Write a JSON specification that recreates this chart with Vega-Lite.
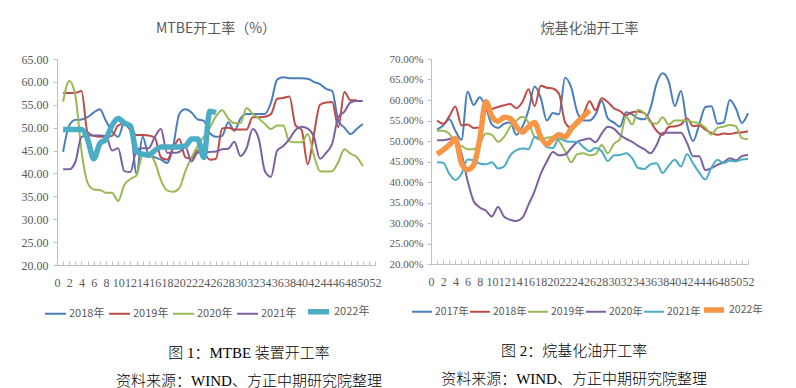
{
  "$schema": "https://vega.github.io/schema/vega-lite/v6.json",
  "background": "white",
  "padding": {"left": 21, "top": 22, "right": 5, "bottom": 0},
  "spacing": 7,
  "datasets": {
    "mtbe": [
      {"s":"2018年","w":1,"v":44.7},{"s":"2018年","w":2,"v":50.5},{"s":"2018年","w":3,"v":51.7},{"s":"2018年","w":4,"v":51.8},{"s":"2018年","w":5,"v":52.3},{"s":"2018年","w":6,"v":53.3},{"s":"2018年","w":7,"v":54.0},{"s":"2018年","w":8,"v":51.5},{"s":"2018年","w":9,"v":49.2},{"s":"2018年","w":10,"v":48.0},
      {"s":"2018年","w":11,"v":51.0},{"s":"2018年","w":12,"v":50.0},{"s":"2018年","w":13,"v":40.0},{"s":"2018年","w":14,"v":48.0},{"s":"2018年","w":15,"v":44.0},{"s":"2018年","w":16,"v":43.5},{"s":"2018年","w":17,"v":43.0},{"s":"2018年","w":18,"v":42.3},{"s":"2018年","w":19,"v":46.0},{"s":"2018年","w":20,"v":53.0},
      {"s":"2018年","w":21,"v":54.0},{"s":"2018年","w":22,"v":53.3},{"s":"2018年","w":23,"v":51.8},{"s":"2018年","w":24,"v":51.5},{"s":"2018年","w":25,"v":48.8},{"s":"2018年","w":26,"v":48.0},{"s":"2018年","w":27,"v":48.2},{"s":"2018年","w":28,"v":51.2},{"s":"2018年","w":29,"v":49.3},{"s":"2018年","w":30,"v":52.0},
      {"s":"2018年","w":31,"v":53.0},{"s":"2018年","w":32,"v":53.0},{"s":"2018年","w":33,"v":53.0},{"s":"2018年","w":34,"v":53.0},{"s":"2018年","w":35,"v":55.5},{"s":"2018年","w":36,"v":60.5},{"s":"2018年","w":37,"v":61.0},{"s":"2018年","w":38,"v":60.8},{"s":"2018年","w":39,"v":60.8},{"s":"2018年","w":40,"v":60.8},
      {"s":"2018年","w":41,"v":60.7},{"s":"2018年","w":42,"v":60.0},{"s":"2018年","w":43,"v":59.5},{"s":"2018年","w":44,"v":58.5},{"s":"2018年","w":45,"v":58.0},{"s":"2018年","w":46,"v":51.5},{"s":"2018年","w":47,"v":50.0},{"s":"2018年","w":48,"v":48.6},{"s":"2018年","w":49,"v":49.7},{"s":"2018年","w":50,"v":50.8},
      {"s":"2019年","w":1,"v":57.6},{"s":"2019年","w":2,"v":57.6},{"s":"2019年","w":3,"v":57.6},{"s":"2019年","w":4,"v":58.0},{"s":"2019年","w":5,"v":49.0},{"s":"2019年","w":6,"v":48.2},{"s":"2019年","w":7,"v":48.0},{"s":"2019年","w":8,"v":48.0},{"s":"2019年","w":9,"v":48.2},{"s":"2019年","w":10,"v":50.5},
      {"s":"2019年","w":11,"v":50.8},{"s":"2019年","w":12,"v":49.5},{"s":"2019年","w":13,"v":48.4},{"s":"2019年","w":14,"v":48.4},{"s":"2019年","w":15,"v":48.3},{"s":"2019年","w":16,"v":47.8},{"s":"2019年","w":17,"v":43.5},{"s":"2019年","w":18,"v":43.0},{"s":"2019年","w":19,"v":45.5},{"s":"2019年","w":20,"v":47.5},
      {"s":"2019年","w":21,"v":43.5},{"s":"2019年","w":22,"v":43.2},{"s":"2019年","w":23,"v":45.0},{"s":"2019年","w":24,"v":44.5},{"s":"2019年","w":25,"v":43.0},{"s":"2019年","w":26,"v":43.2},{"s":"2019年","w":27,"v":49.8},{"s":"2019年","w":28,"v":50.0},{"s":"2019年","w":29,"v":49.6},{"s":"2019年","w":30,"v":49.6},
      {"s":"2019年","w":31,"v":49.6},{"s":"2019年","w":32,"v":52.3},{"s":"2019年","w":33,"v":52.3},{"s":"2019年","w":34,"v":52.4},{"s":"2019年","w":35,"v":53.0},{"s":"2019年","w":36,"v":56.3},{"s":"2019年","w":37,"v":56.5},{"s":"2019年","w":38,"v":56.8},{"s":"2019年","w":39,"v":50.5},{"s":"2019年","w":40,"v":49.5},
      {"s":"2019年","w":41,"v":42.0},{"s":"2019年","w":42,"v":48.5},{"s":"2019年","w":43,"v":55.0},{"s":"2019年","w":44,"v":55.5},{"s":"2019年","w":45,"v":55.6},{"s":"2019年","w":46,"v":50.1},{"s":"2019年","w":47,"v":57.8},{"s":"2019年","w":48,"v":56.0},{"s":"2019年","w":49,"v":56.0},
      {"s":"2020年","w":1,"v":55.7},{"s":"2020年","w":2,"v":60.2},{"s":"2020年","w":3,"v":57.0},{"s":"2020年","w":4,"v":45.0},{"s":"2020年","w":5,"v":38.0},{"s":"2020年","w":6,"v":36.5},{"s":"2020年","w":7,"v":36.4},{"s":"2020年","w":8,"v":35.8},{"s":"2020年","w":9,"v":35.8},{"s":"2020年","w":10,"v":34.0},
      {"s":"2020年","w":11,"v":37.5},{"s":"2020年","w":12,"v":38.8},{"s":"2020年","w":13,"v":39.6},{"s":"2020年","w":14,"v":44.0},{"s":"2020年","w":15,"v":44.3},{"s":"2020年","w":16,"v":42.5},{"s":"2020年","w":17,"v":38.5},{"s":"2020年","w":18,"v":36.3},{"s":"2020年","w":19,"v":36.0},{"s":"2020年","w":20,"v":36.8},
      {"s":"2020年","w":21,"v":40.5},{"s":"2020年","w":22,"v":43.5},{"s":"2020年","w":23,"v":46.0},{"s":"2020年","w":24,"v":48.0},{"s":"2020年","w":25,"v":50.0},{"s":"2020年","w":26,"v":52.5},{"s":"2020年","w":27,"v":53.8},{"s":"2020年","w":28,"v":52.0},{"s":"2020年","w":29,"v":51.0},{"s":"2020年","w":30,"v":51.0},
      {"s":"2020年","w":31,"v":54.3},{"s":"2020年","w":32,"v":53.0},{"s":"2020年","w":33,"v":52.0},{"s":"2020年","w":34,"v":50.8},{"s":"2020年","w":35,"v":49.7},{"s":"2020年","w":36,"v":50.5},{"s":"2020年","w":37,"v":50.5},{"s":"2020年","w":38,"v":47.0},{"s":"2020年","w":39,"v":46.8},{"s":"2020年","w":40,"v":46.8},
      {"s":"2020年","w":41,"v":48.6},{"s":"2020年","w":42,"v":44.0},{"s":"2020年","w":43,"v":40.5},{"s":"2020年","w":44,"v":40.4},{"s":"2020年","w":45,"v":40.5},{"s":"2020年","w":46,"v":42.5},{"s":"2020年","w":47,"v":45.3},{"s":"2020年","w":48,"v":44.3},{"s":"2020年","w":49,"v":43.6},{"s":"2020年","w":50,"v":41.6},
      {"s":"2021年","w":1,"v":40.9},{"s":"2021年","w":2,"v":40.9},{"s":"2021年","w":3,"v":42.5},{"s":"2021年","w":4,"v":48.0},{"s":"2021年","w":5,"v":48.3},{"s":"2021年","w":6,"v":48.3},{"s":"2021年","w":7,"v":48.3},{"s":"2021年","w":8,"v":48.2},{"s":"2021年","w":9,"v":45.0},{"s":"2021年","w":10,"v":45.5},
      {"s":"2021年","w":11,"v":40.5},{"s":"2021年","w":12,"v":40.3},{"s":"2021年","w":13,"v":45.0},{"s":"2021年","w":14,"v":45.5},{"s":"2021年","w":15,"v":45.5},{"s":"2021年","w":16,"v":48.0},{"s":"2021年","w":17,"v":49.7},{"s":"2021年","w":18,"v":44.5},{"s":"2021年","w":19,"v":44.5},{"s":"2021年","w":20,"v":44.7},
      {"s":"2021年","w":21,"v":45.8},{"s":"2021年","w":22,"v":42.6},{"s":"2021年","w":23,"v":44.5},{"s":"2021年","w":24,"v":44.6},{"s":"2021年","w":25,"v":44.7},{"s":"2021年","w":26,"v":44.8},{"s":"2021年","w":27,"v":45.3},{"s":"2021年","w":28,"v":45.4},{"s":"2021年","w":29,"v":46.9},{"s":"2021年","w":30,"v":43.8},
      {"s":"2021年","w":31,"v":45.5},{"s":"2021年","w":32,"v":49.7},{"s":"2021年","w":33,"v":47.5},{"s":"2021年","w":34,"v":40.5},{"s":"2021年","w":35,"v":39.3},{"s":"2021年","w":36,"v":45.0},{"s":"2021年","w":37,"v":46.0},{"s":"2021年","w":38,"v":47.5},{"s":"2021年","w":39,"v":49.5},{"s":"2021年","w":40,"v":50.2},
      {"s":"2021年","w":41,"v":49.8},{"s":"2021年","w":42,"v":48.0},{"s":"2021年","w":43,"v":43.2},{"s":"2021年","w":44,"v":44.5},{"s":"2021年","w":45,"v":46.5},{"s":"2021年","w":46,"v":52.3},{"s":"2021年","w":47,"v":53.5},{"s":"2021年","w":48,"v":55.5},{"s":"2021年","w":49,"v":55.8},{"s":"2021年","w":50,"v":55.8},
      {"s":"2022年","w":1,"v":49.6},{"s":"2022年","w":2,"v":49.6},{"s":"2022年","w":3,"v":49.6},{"s":"2022年","w":4,"v":49.6},{"s":"2022年","w":5,"v":47.5},{"s":"2022年","w":6,"v":43.2},{"s":"2022年","w":7,"v":46.5},{"s":"2022年","w":8,"v":47.5},{"s":"2022年","w":9,"v":50.5},{"s":"2022年","w":10,"v":52.0},
      {"s":"2022年","w":11,"v":51.0},{"s":"2022年","w":12,"v":50.4},{"s":"2022年","w":13,"v":44.8},{"s":"2022年","w":14,"v":44.2},{"s":"2022年","w":15,"v":44.0},{"s":"2022年","w":16,"v":45.0},{"s":"2022年","w":17,"v":45.8},{"s":"2022年","w":18,"v":45.8},{"s":"2022年","w":19,"v":45.8},{"s":"2022年","w":20,"v":45.8},
      {"s":"2022年","w":21,"v":46.0},{"s":"2022年","w":22,"v":47.5},{"s":"2022年","w":23,"v":47.5},{"s":"2022年","w":24,"v":43.5},{"s":"2022年","w":25,"v":53.6},{"s":"2022年","w":26,"v":53.3}
    ],
    "alky": [
      {"s":"2017年","w":1,"v":52.8},{"s":"2017年","w":2,"v":53.8},{"s":"2017年","w":3,"v":55.3},{"s":"2017年","w":4,"v":52.5},{"s":"2017年","w":5,"v":50.3},{"s":"2017年","w":6,"v":62.0},{"s":"2017年","w":7,"v":58.8},{"s":"2017年","w":8,"v":60.7},{"s":"2017年","w":9,"v":58.2},{"s":"2017年","w":10,"v":54.0},
      {"s":"2017年","w":11,"v":53.2},{"s":"2017年","w":12,"v":54.2},{"s":"2017年","w":13,"v":54.5},{"s":"2017年","w":14,"v":51.5},{"s":"2017年","w":15,"v":53.5},{"s":"2017年","w":16,"v":57.5},{"s":"2017年","w":17,"v":63.3},{"s":"2017年","w":18,"v":60.5},{"s":"2017年","w":19,"v":55.0},{"s":"2017年","w":20,"v":56.8},
      {"s":"2017年","w":21,"v":56.5},{"s":"2017年","w":22,"v":65.4},{"s":"2017年","w":23,"v":63.0},{"s":"2017年","w":24,"v":57.0},{"s":"2017年","w":25,"v":55.0},{"s":"2017年","w":26,"v":55.0},{"s":"2017年","w":27,"v":56.5},{"s":"2017年","w":28,"v":59.8},{"s":"2017年","w":29,"v":55.5},{"s":"2017年","w":30,"v":54.5},
      {"s":"2017年","w":31,"v":53.5},{"s":"2017年","w":32,"v":57.0},{"s":"2017年","w":33,"v":56.5},{"s":"2017年","w":34,"v":55.5},{"s":"2017年","w":35,"v":55.3},{"s":"2017年","w":36,"v":58.0},{"s":"2017年","w":37,"v":64.0},{"s":"2017年","w":38,"v":66.5},{"s":"2017年","w":39,"v":64.5},{"s":"2017年","w":40,"v":58.5},
      {"s":"2017年","w":41,"v":62.2},{"s":"2017年","w":42,"v":54.0},{"s":"2017年","w":43,"v":50.0},{"s":"2017年","w":44,"v":54.0},{"s":"2017年","w":45,"v":58.3},{"s":"2017年","w":46,"v":58.5},{"s":"2017年","w":47,"v":54.2},{"s":"2017年","w":48,"v":54.5},{"s":"2017年","w":49,"v":60.0},{"s":"2017年","w":50,"v":58.0},
      {"s":"2017年","w":51,"v":54.4},{"s":"2017年","w":52,"v":56.8},
      {"s":"2018年","w":1,"v":55.0},{"s":"2018年","w":2,"v":54.2},{"s":"2018年","w":3,"v":56.0},{"s":"2018年","w":4,"v":58.4},{"s":"2018年","w":5,"v":53.8},{"s":"2018年","w":6,"v":54.0},{"s":"2018年","w":7,"v":53.2},{"s":"2018年","w":8,"v":53.3},{"s":"2018年","w":9,"v":57.3},{"s":"2018年","w":10,"v":57.8},
      {"s":"2018年","w":11,"v":58.3},{"s":"2018年","w":12,"v":58.7},{"s":"2018年","w":13,"v":59.0},{"s":"2018年","w":14,"v":58.0},{"s":"2018年","w":15,"v":59.5},{"s":"2018年","w":16,"v":62.6},{"s":"2018年","w":17,"v":58.5},{"s":"2018年","w":18,"v":63.5},{"s":"2018年","w":19,"v":63.0},{"s":"2018年","w":20,"v":62.8},
      {"s":"2018年","w":21,"v":61.5},{"s":"2018年","w":22,"v":54.5},{"s":"2018年","w":23,"v":53.2},{"s":"2018年","w":24,"v":55.0},{"s":"2018年","w":25,"v":56.5},{"s":"2018年","w":26,"v":59.7},{"s":"2018年","w":27,"v":57.5},{"s":"2018年","w":28,"v":60.4},{"s":"2018年","w":29,"v":59.5},{"s":"2018年","w":30,"v":58.0},
      {"s":"2018年","w":31,"v":57.3},{"s":"2018年","w":32,"v":56.3},{"s":"2018年","w":33,"v":57.0},{"s":"2018年","w":34,"v":57.2},{"s":"2018年","w":35,"v":56.8},{"s":"2018年","w":36,"v":54.8},{"s":"2018年","w":37,"v":52.5},{"s":"2018年","w":38,"v":51.5},{"s":"2018年","w":39,"v":53.4},{"s":"2018年","w":40,"v":53.6},
      {"s":"2018年","w":41,"v":54.0},{"s":"2018年","w":42,"v":55.5},{"s":"2018年","w":43,"v":53.6},{"s":"2018年","w":44,"v":53.8},{"s":"2018年","w":45,"v":52.8},{"s":"2018年","w":46,"v":52.0},{"s":"2018年","w":47,"v":51.5},{"s":"2018年","w":48,"v":51.8},{"s":"2018年","w":49,"v":51.7},{"s":"2018年","w":50,"v":52.0},
      {"s":"2018年","w":51,"v":52.1},{"s":"2018年","w":52,"v":52.4},
      {"s":"2019年","w":1,"v":52.5},{"s":"2019年","w":2,"v":52.5},{"s":"2019年","w":3,"v":51.8},{"s":"2019年","w":4,"v":49.5},{"s":"2019年","w":5,"v":48.8},{"s":"2019年","w":6,"v":48.0},{"s":"2019年","w":7,"v":48.0},{"s":"2019年","w":8,"v":49.3},{"s":"2019年","w":9,"v":51.8},{"s":"2019年","w":10,"v":51.5},
      {"s":"2019年","w":11,"v":49.8},{"s":"2019年","w":12,"v":51.0},{"s":"2019年","w":13,"v":53.5},{"s":"2019年","w":14,"v":55.0},{"s":"2019年","w":15,"v":55.9},{"s":"2019年","w":16,"v":54.5},{"s":"2019年","w":17,"v":51.0},{"s":"2019年","w":18,"v":50.3},{"s":"2019年","w":19,"v":50.8},{"s":"2019年","w":20,"v":51.0},
      {"s":"2019年","w":21,"v":50.0},{"s":"2019年","w":22,"v":47.5},{"s":"2019年","w":23,"v":44.8},{"s":"2019年","w":24,"v":46.8},{"s":"2019年","w":25,"v":47.0},{"s":"2019年","w":26,"v":46.5},{"s":"2019年","w":27,"v":46.8},{"s":"2019年","w":28,"v":49.0},{"s":"2019年","w":29,"v":47.0},{"s":"2019年","w":30,"v":49.3},
      {"s":"2019年","w":31,"v":50.5},{"s":"2019年","w":32,"v":56.0},{"s":"2019年","w":33,"v":54.0},{"s":"2019年","w":34,"v":57.6},{"s":"2019年","w":35,"v":56.8},{"s":"2019年","w":36,"v":54.6},{"s":"2019年","w":37,"v":54.2},{"s":"2019年","w":38,"v":55.8},{"s":"2019年","w":39,"v":54.0},{"s":"2019年","w":40,"v":55.0},
      {"s":"2019年","w":41,"v":55.0},{"s":"2019年","w":42,"v":55.0},{"s":"2019年","w":43,"v":54.6},{"s":"2019年","w":44,"v":54.3},{"s":"2019年","w":45,"v":53.3},{"s":"2019年","w":46,"v":51.6},{"s":"2019年","w":47,"v":53.2},{"s":"2019年","w":48,"v":53.5},{"s":"2019年","w":49,"v":53.9},{"s":"2019年","w":50,"v":53.6},
      {"s":"2019年","w":51,"v":50.7},{"s":"2019年","w":52,"v":50.4},
      {"s":"2020年","w":1,"v":50.2},{"s":"2020年","w":2,"v":50.2},{"s":"2020年","w":3,"v":50.5},{"s":"2020年","w":4,"v":50.8},{"s":"2020年","w":5,"v":47.0},{"s":"2020年","w":6,"v":40.3},{"s":"2020年","w":7,"v":35.3},{"s":"2020年","w":8,"v":33.8},{"s":"2020年","w":9,"v":33.0},{"s":"2020年","w":10,"v":31.6},
      {"s":"2020年","w":11,"v":33.9},{"s":"2020年","w":12,"v":31.5},{"s":"2020年","w":13,"v":30.8},{"s":"2020年","w":14,"v":30.5},{"s":"2020年","w":15,"v":31.3},{"s":"2020年","w":16,"v":34.5},{"s":"2020年","w":17,"v":37.8},{"s":"2020年","w":18,"v":42.0},{"s":"2020年","w":19,"v":45.0},{"s":"2020年","w":20,"v":47.3},
      {"s":"2020年","w":21,"v":46.5},{"s":"2020年","w":22,"v":46.7},{"s":"2020年","w":23,"v":48.3},{"s":"2020年","w":24,"v":49.8},{"s":"2020年","w":25,"v":50.3},{"s":"2020年","w":26,"v":50.6},{"s":"2020年","w":27,"v":49.7},{"s":"2020年","w":28,"v":51.8},{"s":"2020年","w":29,"v":53.5},{"s":"2020年","w":30,"v":53.0},
      {"s":"2020年","w":31,"v":51.5},{"s":"2020年","w":32,"v":50.5},{"s":"2020年","w":33,"v":49.8},{"s":"2020年","w":34,"v":48.8},{"s":"2020年","w":35,"v":48.0},{"s":"2020年","w":36,"v":47.0},{"s":"2020年","w":37,"v":49.0},{"s":"2020年","w":38,"v":52.0},{"s":"2020年","w":39,"v":52.0},{"s":"2020年","w":40,"v":52.0},
      {"s":"2020年","w":41,"v":52.0},{"s":"2020年","w":42,"v":49.5},{"s":"2020年","w":43,"v":46.3},{"s":"2020年","w":44,"v":46.3},{"s":"2020年","w":45,"v":42.9},{"s":"2020年","w":46,"v":43.4},{"s":"2020年","w":47,"v":44.2},{"s":"2020年","w":48,"v":44.8},{"s":"2020年","w":49,"v":45.8},{"s":"2020年","w":50,"v":45.3},
      {"s":"2020年","w":51,"v":46.3},{"s":"2020年","w":52,"v":46.6},
      {"s":"2021年","w":1,"v":44.8},{"s":"2021年","w":2,"v":44.7},{"s":"2021年","w":3,"v":42.0},{"s":"2021年","w":4,"v":40.5},{"s":"2021年","w":5,"v":42.0},{"s":"2021年","w":6,"v":45.5},{"s":"2021年","w":7,"v":45.3},{"s":"2021年","w":8,"v":44.5},{"s":"2021年","w":9,"v":44.3},{"s":"2021年","w":10,"v":44.8},
      {"s":"2021年","w":11,"v":43.3},{"s":"2021年","w":12,"v":43.8},{"s":"2021年","w":13,"v":46.5},{"s":"2021年","w":14,"v":47.8},{"s":"2021年","w":15,"v":48.2},{"s":"2021年","w":16,"v":48.0},{"s":"2021年","w":17,"v":51.0},{"s":"2021年","w":18,"v":50.5},{"s":"2021年","w":19,"v":48.5},{"s":"2021年","w":20,"v":48.3},
      {"s":"2021年","w":21,"v":50.6},{"s":"2021年","w":22,"v":50.0},{"s":"2021年","w":23,"v":49.8},{"s":"2021年","w":24,"v":49.8},{"s":"2021年","w":25,"v":48.5},{"s":"2021年","w":26,"v":47.5},{"s":"2021年","w":27,"v":48.3},{"s":"2021年","w":28,"v":47.5},{"s":"2021年","w":29,"v":45.1},{"s":"2021年","w":30,"v":46.5},
      {"s":"2021年","w":31,"v":46.6},{"s":"2021年","w":32,"v":47.0},{"s":"2021年","w":33,"v":45.8},{"s":"2021年","w":34,"v":43.4},{"s":"2021年","w":35,"v":43.2},{"s":"2021年","w":36,"v":44.3},{"s":"2021年","w":37,"v":44.6},{"s":"2021年","w":38,"v":42.2},{"s":"2021年","w":39,"v":44.0},{"s":"2021年","w":40,"v":45.4},
      {"s":"2021年","w":41,"v":43.8},{"s":"2021年","w":42,"v":46.8},{"s":"2021年","w":43,"v":44.5},{"s":"2021年","w":44,"v":42.3},{"s":"2021年","w":45,"v":40.6},{"s":"2021年","w":46,"v":43.5},{"s":"2021年","w":47,"v":45.4},{"s":"2021年","w":48,"v":44.6},{"s":"2021年","w":49,"v":45.2},{"s":"2021年","w":50,"v":45.0},
      {"s":"2021年","w":51,"v":45.5},{"s":"2021年","w":52,"v":45.6},
      {"s":"2022年","w":1,"v":46.8},{"s":"2022年","w":2,"v":47.8},{"s":"2022年","w":3,"v":49.0},{"s":"2022年","w":4,"v":50.6},{"s":"2022年","w":5,"v":44.5},{"s":"2022年","w":6,"v":43.0},{"s":"2022年","w":7,"v":44.2},{"s":"2022年","w":8,"v":50.5},{"s":"2022年","w":9,"v":59.6},{"s":"2022年","w":10,"v":56.0},
      {"s":"2022年","w":11,"v":54.8},{"s":"2022年","w":12,"v":55.8},{"s":"2022年","w":13,"v":55.5},{"s":"2022年","w":14,"v":53.5},{"s":"2022年","w":15,"v":52.2},{"s":"2022年","w":16,"v":53.5},{"s":"2022年","w":17,"v":54.5},{"s":"2022年","w":18,"v":51.0},{"s":"2022年","w":19,"v":49.2},{"s":"2022年","w":20,"v":50.5},
      {"s":"2022年","w":21,"v":51.5},{"s":"2022年","w":22,"v":51.0},{"s":"2022年","w":23,"v":53.0},{"s":"2022年","w":24,"v":54.5},{"s":"2022年","w":25,"v":56.0},{"s":"2022年","w":26,"v":57.5}
    ]
  },
  "hconcat": [
    {
      "title": {"text": "图 1：MTBE 装置开工率", "subtitle": "资料来源：WIND、方正中期研究院整理", "orient": "bottom", "anchor": "middle", "dx": 48, "offset": 23,
                "font": "Liberation Serif, Noto Sans CJK SC", "fontSize": 15, "fontWeight": 300, "color": "#000000",
                "subtitleFontWeight": 300},
      "vconcat": [
        {
          "width": 318,
          "height": 206,
          "title": {"text": "MTBE开工率（%）", "offset": 17},
          "data": {"name": "mtbe"},
          "mark": {"type": "line", "interpolate": "monotone"},
          "encoding": {
            "x": {"field": "w", "type": "quantitative", "scale": {"domain": [0, 52], "nice": false},
                  "axis": {"values": [0,1,2,3,4,5,6,7,8,9,10,11,12,13,14,15,16,17,18,19,20,21,22,23,24,25,26,27,28,29,30,31,32,33,34,35,36,37,38,39,40,41,42,43,44,45,46,47,48,49,50,51,52],
                           "labelExpr": "datum.value % 2 ? '' : datum.label", "labelOverlap": false, "labelFlush": false, "tickSize": -4, "labelPadding": 16}},
            "y": {"field": "v", "type": "quantitative", "scale": {"domain": [20, 65], "nice": false},
                  "axis": {"values": [20,25,30,35,40,45,50,55,60,65], "format": ".2f", "tickSize": 4, "labelPadding": 5}},
            "color": {"field": "s", "type": "nominal", "title": null,
                      "scale": {"domain": ["2018年","2019年","2020年","2021年","2022年"], "range": ["#4a7ebb","#be4b48","#98b954","#7d60a0","#4bacc6"]},
                      "legend": {"orient": "none", "legendX": -13, "legendY": 239, "direction": "horizontal", "columnPadding": 0, "symbolSize": 441, "labelFontSize": 11}},
            "strokeWidth": {"field": "s", "type": "nominal", "title": null,
                      "scale": {"type": "ordinal", "domain": ["2018年","2019年","2020年","2021年","2022年"], "range": [2, 2, 2, 2, 5.5]},
                      "legend": {"orient": "none", "legendX": -13, "legendY": 239, "direction": "horizontal", "columnPadding": 0, "symbolSize": 441, "labelFontSize": 11}}
          }
        }
      ]
    },
    {
      "title": {"text": "图 2：烷基化油开工率", "subtitle": "资料来源：WIND、方正中期研究院整理", "orient": "bottom", "anchor": "middle", "dx": -2, "offset": 23,
                "font": "Liberation Serif, Noto Sans CJK SC", "fontSize": 15, "fontWeight": 300, "color": "#000000",
                "subtitleFontWeight": 300},
      "vconcat": [
        {
          "width": 317,
          "height": 205,
          "title": {"text": "烷基化油开工率", "offset": 17},
          "data": {"name": "alky"},
          "mark": {"type": "line", "interpolate": "monotone"},
          "encoding": {
            "x": {"field": "w", "type": "quantitative", "scale": {"domain": [0, 52], "nice": false},
                  "axis": {"values": [0,1,2,3,4,5,6,7,8,9,10,11,12,13,14,15,16,17,18,19,20,21,22,23,24,25,26,27,28,29,30,31,32,33,34,35,36,37,38,39,40,41,42,43,44,45,46,47,48,49,50,51,52],
                           "labelExpr": "datum.value % 2 ? '' : datum.label", "labelOverlap": false, "labelFlush": false, "tickSize": -4, "labelPadding": 16}},
            "y": {"field": "v", "type": "quantitative", "scale": {"domain": [20, 70], "nice": false},
                  "axis": {"values": [20,25,30,35,40,45,50,55,60,65,70], "labelExpr": "format(datum.value, '.2f') + '%'", "tickSize": 4, "labelPadding": 4, "labelFontSize": 11}},
            "color": {"field": "s", "type": "nominal", "title": null,
                      "scale": {"domain": ["2017年","2018年","2019年","2020年","2021年","2022年"], "range": ["#4a7ebb","#be4b48","#98b954","#7d60a0","#4bacc6","#f79646"]},
                      "legend": {"orient": "none", "legendX": -20, "legendY": 238, "direction": "horizontal", "columnPadding": -14, "symbolSize": 400, "labelFontSize": 10.5}},
            "strokeWidth": {"field": "s", "type": "nominal", "title": null,
                      "scale": {"type": "ordinal", "domain": ["2017年","2018年","2019年","2020年","2021年","2022年"], "range": [2, 2, 2, 2, 2, 5.5]},
                      "legend": {"orient": "none", "legendX": -20, "legendY": 238, "direction": "horizontal", "columnPadding": -14, "symbolSize": 400, "labelFontSize": 10.5}}
          }
        }
      ]
    }
  ],
  "resolve": {"scale": {"color": "independent", "strokeWidth": "independent", "x": "independent", "y": "independent"}, "legend": {"color": "independent", "strokeWidth": "independent"}},
  "config": {
    "view": {"stroke": null},
    "axis": {"domainColor": "#bfbfbf", "tickColor": "#bfbfbf", "labelColor": "#595959", "labelFont": "Liberation Sans Narrow", "labelFontSize": 12, "grid": false, "title": null},
    "legend": {"symbolType": "stroke", "labelFont": "Liberation Sans Narrow, Noto Sans CJK SC", "labelColor": "#595959", "labelOffset": 2, "symbolOffset": 0, "padding": 0},
    "title": {"font": "Noto Sans CJK SC", "fontSize": 14, "fontWeight": "normal", "color": "#595959", "offset": 20,
              "subtitleFont": "Liberation Serif, Noto Sans CJK SC", "subtitleFontSize": 15, "subtitleColor": "#000000", "subtitlePadding": 13},
    "concat": {"spacing": 7}
  }
}
